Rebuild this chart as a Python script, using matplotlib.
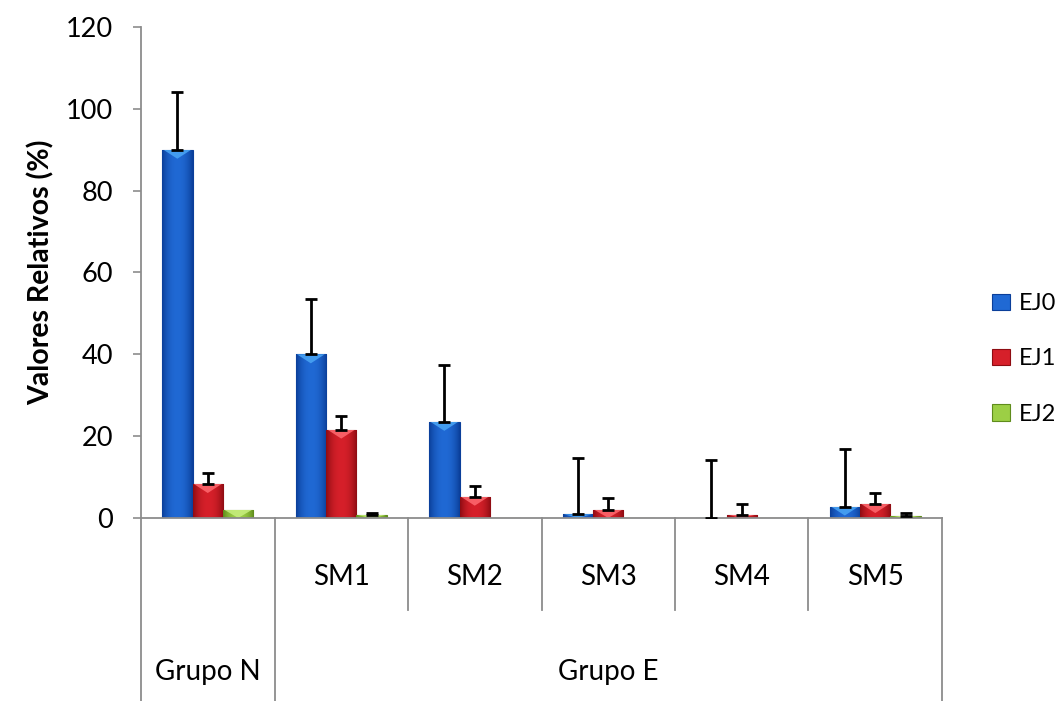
import numpy as np
import matplotlib
matplotlib.use("Agg")
import matplotlib.pyplot as plt
from matplotlib.patches import Polygon, Patch
from matplotlib.colors import to_rgb
from matplotlib import transforms

plt.rcParams['font.family'] = ['Lato', 'DejaVu Sans']

# ---- data ----
categories = ["Grupo N", "SM1", "SM2", "SM3", "SM4", "SM5"]
sub_labels = ["", "SM1", "SM2", "SM3", "SM4", "SM5"]
series_names = ["EJ0", "EJ1", "EJ2"]
ej0 = [90.0, 40.0, 23.5, 0.9, 0.0, 2.8]
ej1 = [8.3, 21.6, 5.2, 2.0, 0.8, 3.4]
ej2 = [2.0, 0.7, 0.0, 0.0, 0.0, 0.6]
ej0_err = [14.0, 13.5, 13.8, 13.8, 14.1, 14.0]
ej1_err = [2.8, 3.3, 2.6, 2.8, 2.5, 2.6]
ej2_err = [0.0, 0.5, 0.0, 0.0, 0.0, 0.5]
yticks = [0, 20, 40, 60, 80, 100, 120]

# (edge, middle, highlight) shades for each series
palettes = [
    ("#0b3f9a", "#2069d4", "#4aa6f5"),
    ("#8e0c12", "#d6202a", "#ff6a70"),
    ("#5f8c1c", "#9ccf45", "#c8ef80"),
]

fig = plt.figure(figsize=(10.57, 7.01), dpi=100)
ax = fig.add_axes([0.1334, 0.2611, 0.7578, 0.7004])

x = np.arange(len(categories))
width = 0.228
offsets = [-width, 0.0, width]
values = [ej0, ej1, ej2]
errors = [ej0_err, ej1_err, ej2_err]

ax.set_xlim(-0.5, len(categories) - 0.5)
ax.set_ylim(0, 120)


def gradient_image(pal):
    edge, mid, _ = (np.array(to_rgb(c)) for c in pal)
    t = np.linspace(-1, 1, 64)
    w = np.clip(np.abs(t) ** 2.2, 0, 1)[:, None]
    row = mid * (1 - w) + edge * w
    return row[None, :, :]


for vals, errs, off, pal in zip(values, errors, offsets, palettes):
    bars = ax.bar(x + off, vals, width, color=pal[1], edgecolor=pal[0],
                  linewidth=0.8, zorder=2)
    img = gradient_image(pal)
    for b in bars:
        h = b.get_height()
        if h <= 0:
            continue
        x0 = b.get_x()
        x1 = x0 + b.get_width()
        im = ax.imshow(img, extent=(x0, x1, 0, h), aspect='auto',
                       zorder=2.1, interpolation='bilinear')
        im.set_clip_path(b)
        depth = min(2.2, h)
        tri = Polygon([(x0 + 0.01, h), (x1 - 0.01, h), ((x0 + x1) / 2, h - depth)],
                      closed=True, facecolor=pal[2], edgecolor='none',
                      alpha=0.85, zorder=2.2)
        ax.add_patch(tri)
        tri.set_clip_path(b)
    lower = np.zeros(len(vals))
    shown = np.array(errs) > 0
    ax.errorbar((x + off)[shown], np.array(vals)[shown],
                yerr=[lower[shown], np.array(errs)[shown]],
                fmt='none', ecolor='black', elinewidth=2.0,
                capsize=4.5, capthick=2.0, zorder=3)

# axes styling
axis_grey = "#8c8c8c"
for side in ("top", "right"):
    ax.spines[side].set_visible(False)
ax.spines['left'].set_color(axis_grey)
ax.spines['bottom'].set_color(axis_grey)
ax.spines['left'].set_linewidth(1.3)
ax.spines['bottom'].set_linewidth(1.3)
ax.set_yticks(yticks)
ax.set_yticklabels([str(v) for v in yticks], fontsize=19.5)
ax.tick_params(axis='y', direction='out', length=6, width=1.2,
               color=axis_grey, pad=14)
ax.set_xticks([])
ax.set_ylabel("Valores Relativos (%)", fontsize=20.5, fontweight='bold',
              labelpad=8)

# category table below the axis
trans = transforms.blended_transform_factory(ax.transData, fig.transFigure)
y_axis = 1 - 518 / 701
y_mid = 1 - 610 / 701
bounds = np.arange(len(categories) + 1) - 0.5
for i, b in enumerate(bounds):
    full = i in (0, 1, len(bounds) - 1)
    ax.plot([b, b], [y_axis, 0.0 if full else y_mid], transform=trans,
            color=axis_grey, lw=1.3, clip_on=False, zorder=1)
for xi, lab in zip(x, sub_labels):
    if lab:
        ax.text(xi, 1 - 577 / 701, lab, transform=trans, ha='center',
                va='center', fontsize=20)
ax.text(x[0], 1 - 672 / 701, "Grupo N", transform=trans, ha='center',
        va='center', fontsize=20)
ax.text(np.mean(x[1:]), 1 - 672 / 701, "Grupo E", transform=trans,
        ha='center', va='center', fontsize=20)

# legend
handles = [Patch(facecolor=p[1], edgecolor=p[0], linewidth=0.8) for p in palettes]
fig.legend(handles, series_names, loc='center left',
           bbox_to_anchor=(0.918, 0.488), frameon=False, fontsize=17,
           handlelength=0.8, handleheight=0.7, handletextpad=0.35,
           labelspacing=1.45)

fig.savefig("out.png", dpi=100, facecolor='white')
